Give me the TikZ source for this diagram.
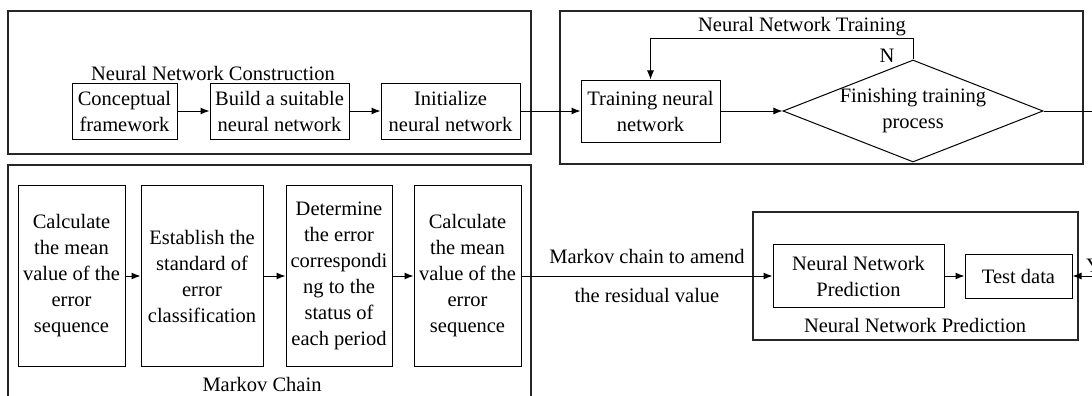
\documentclass[tikz,border=0pt]{standalone}
\usepackage{fontspec}
\setmainfont{LiberationSerif}[Extension=.ttf, UprightFont=*-Regular,
  BoldFont=*-Bold, ItalicFont=*-Italic, BoldItalicFont=*-BoldItalic]
\usetikzlibrary{arrows.meta,positioning,shapes.geometric}

\begin{document}
\begin{tikzpicture}[
  x=1pt, y=-1pt,
  font=\rmfamily\fontsize{20.5pt}{26pt}\selectfont,
  node distance=30pt,
  frame/.style={draw=black!85, line width=1.4pt},
  blk/.style={rectangle, draw, line width=1pt, inner sep=0pt, align=center},
  decide/.style={diamond, draw, line width=1pt, inner sep=0pt, align=center,
                 aspect=2.55, minimum width=260pt, minimum height=102pt},
  txt/.style={inner sep=0pt, align=center},
  arr/.style={-{Latex[length=9pt,width=7pt]}, line width=1pt}
]
  \useasboundingbox (0,0) rectangle (1092,396);

  % frames
  \draw[frame] (8,11) rectangle (531,154);
  \draw[frame] (560,11) rectangle (1083,164);
  \draw[frame] (8,165) rectangle (531,410);
  \draw[frame] (753,212) rectangle (1078,340);

  % construction
  \node[txt] (conlbl) at (213,73) {Neural Network Construction};
  \node[blk, minimum width=105pt, minimum height=56pt] (concept) at (124.5,111)
    {Conceptual\\framework};
  \node[blk, minimum width=139pt, minimum height=56pt] (build) [right=32pt of concept]
    {Build a suitable\\neural network};
  \node[blk, minimum width=139pt, minimum height=56pt] (init) [right=31pt of build]
    {Initialize\\neural network};

  % training
  \node[txt] (trnlbl) at (802,27) {Neural Network Training};
  \node[blk, minimum width=139pt, minimum height=62pt] (train) at (650.5,111)
    {Training neural\\network};
  \node[decide] (dia) at (913,111) {Finishing training\\process};
  \node[txt] (nlbl) at (887,56) {N};
  \coordinate (exitR) at (1092,111);

  % markov chain
  \node[txt] (mklbl) at (262,384) {Markov Chain};
  \node[blk, minimum width=107pt, minimum height=181pt] (mk1) at (71.5,276)
    {Calculate\\the mean\\value of the\\error\\sequence};
  \node[blk, minimum width=122pt, minimum height=181pt] (mk2) [right=15pt of mk1]
    {Establish the\\standard of\\error\\classification};
  \node[blk, minimum width=106pt, minimum height=181pt] (mk3) [right=22pt of mk2]
    {Determine\\the error\\correspondi\\ng to the\\status of\\each period};
  \node[blk, minimum width=107pt, minimum height=181pt] (mk4) [right=21pt of mk3]
    {Calculate\\the mean\\value of the\\error\\sequence};

  % prediction
  \node[txt] (prdlbl) at (915,325) {Neural Network Prediction};
  \node[blk, minimum width=171pt, minimum height=63pt] (nnpred) at (858.5,276)
    {Neural Network\\Prediction};
  \node[blk, minimum width=107pt, minimum height=44pt] (test) [right=20pt of nnpred]
    {Test data};
  \coordinate (entY) at (1092,276);
  \node[txt, anchor=west] (ylbl) at (1086,266) {Y};

  % arrows
  \draw[arr] (concept) -- (build);
  \draw[arr] (build) -- (init);
  \draw[arr] (init) -- (train);
  \draw[arr] (train) -- (dia);
  \draw[arr] (dia.north) -- ++(0,-21) -| (train.north);
  \draw[line width=1pt] (dia.east) -- (exitR);
  \draw[arr] (mk1) -- (mk2);
  \draw[arr] (mk2) -- (mk3);
  \draw[arr] (mk3) -- (mk4);
  \draw[arr] (mk4) -- node[above=12pt, txt] {Markov chain to amend}
    node[below=12pt, txt] {the residual value} (nnpred);
  \draw[arr] (nnpred) -- (test);
  \draw[arr] (entY) -- (test);
\end{tikzpicture}
\end{document}
